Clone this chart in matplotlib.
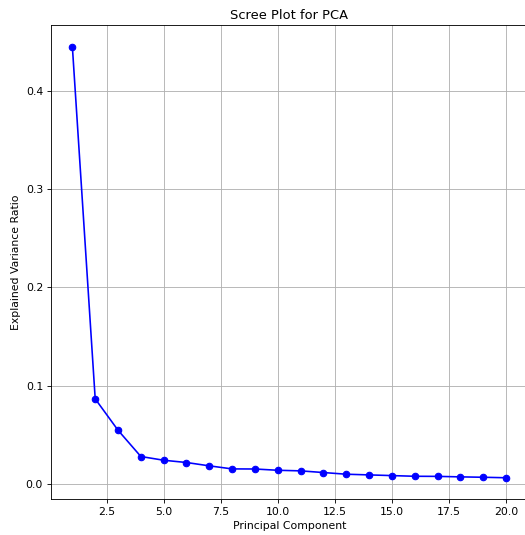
import matplotlib
matplotlib.use("Agg")
import matplotlib.pyplot as plt

components = list(range(1, 21))
explained_variance = [0.4446, 0.0868, 0.0549, 0.0282, 0.0244, 0.0221, 0.0187, 0.0156,
                      0.0155, 0.0142, 0.0136, 0.0119, 0.0102, 0.0095, 0.0088, 0.0081,
                      0.0080, 0.0075, 0.0071, 0.0066]

DPI = 78
W, H = 525, 535
fig = plt.figure(figsize=(W / DPI, H / DPI), dpi=DPI)
ax = fig.add_axes([50.7 / W, (H - 499.3) / H, 477 / W, 474 / H])
ax.plot(components, explained_variance, marker="o", linestyle="-", color="b")
ax.set_title("Scree Plot for PCA")
ax.set_xlabel("Principal Component")
ax.set_ylabel("Explained Variance Ratio")
ax.grid(True)
fig.savefig("out.png", dpi=DPI)
